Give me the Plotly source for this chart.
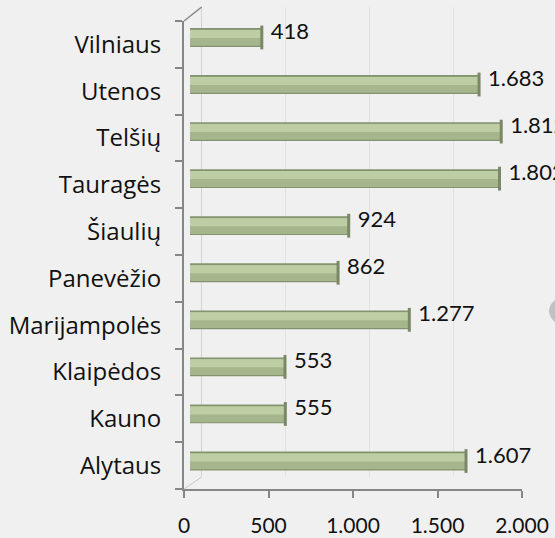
import plotly.graph_objects as go

categories = ["Alytaus", "Kauno", "Klaipėdos", "Marijampolės", "Panevėžio",
              "Šiaulių", "Tauragės", "Telšių", "Utenos", "Vilniaus"]
values = [1607, 555, 553, 1277, 862, 924, 1802, 1812, 1683, 418]
x_ticks = [0, 500, 1000, 1500, 2000]

W, H = 555, 538
def fx(px):
    return px / W
def fy(py):
    return 1 - py / H

AX = "#868686"
fig = go.Figure()

fig.add_trace(go.Scatter(x=[0], y=[0], xaxis="x", yaxis="y", mode="markers",
                         marker=dict(opacity=0), hoverinfo="skip", showlegend=False))
fig.add_trace(go.Scatter(x=[0] * len(categories), y=categories, xaxis="x2", yaxis="y2",
                         mode="markers", marker=dict(opacity=0), hoverinfo="skip",
                         showlegend=False))

layers = [
    dict(width=0.40, offset=-0.20, color="#84936f"),
    dict(width=0.34, offset=-0.175, color="#a5b68d"),
    dict(width=0.17, offset=-0.01, color="#bdcea5"),
]
for L in layers:
    fig.add_trace(go.Bar(
        x=values, y=categories, orientation="h", xaxis="x3", yaxis="y3",
        width=L["width"], offset=L["offset"],
        marker=dict(color=L["color"], line=dict(width=0)),
        hoverinfo="skip", showlegend=False))

fig.add_trace(go.Scatter(
    x=values, y=categories, xaxis="x3", yaxis="y3", mode="markers",
    marker=dict(symbol="line-ns", size=17, line=dict(color="#7a8866", width=3)),
    hoverinfo="skip", showlegend=False, cliponaxis=False))

fig.add_trace(go.Scatter(
    x=values, y=categories, xaxis="x4", yaxis="y4", mode="text",
    text=values, texttemplate="%{x:,}", textposition="middle right",
    textfont=dict(family="Lato", size=22, color="#111111"),
    cliponaxis=False, hoverinfo="skip", showlegend=False))

front_x = [fx(184), fx(522)]
front_y = [fy(489), fy(21)]

fig.update_layout(
    width=W, height=H, autosize=False,
    margin=dict(l=0, r=0, t=0, b=0, autoexpand=False),
    paper_bgcolor="#f0f0f0",
    plot_bgcolor="rgba(0,0,0,0)",
    separators=",.",
    barmode="overlay",
    showlegend=False,
    xaxis=dict(domain=[fx(201.7), fx(538)], range=[0, 2000], dtick=500,
               showgrid=True, gridcolor="#e2e2e2", gridwidth=1, automargin=False,
               showticklabels=False, zeroline=False, ticks="", fixedrange=True),
    yaxis=dict(domain=[fy(477), fy(7)], range=[0, 1], showgrid=False, automargin=False,
               showticklabels=False, zeroline=False, showline=True,
               linecolor="#d2d2d2", linewidth=1, ticks=""),
    xaxis2=dict(domain=front_x, range=[0, 2000], tickvals=x_ticks, automargin=False,
                tickformat=",", anchor="y2", showgrid=False, zeroline=False,
                showline=True, linecolor=AX, linewidth=2,
                ticks="outside", ticklen=7, tickcolor=AX, tickwidth=2,
                tickfont=dict(family="Lato", size=21, color="#111111"),
                ticklabelstandoff=10),
    yaxis2=dict(domain=front_y, type="category", categoryarray=categories,
                categoryorder="array", range=[-0.5, 9.5], anchor="x2", automargin=False,
                showgrid=False, zeroline=False, showline=True, linecolor=AX,
                linewidth=2, ticks="outside", ticklen=7, tickcolor=AX, tickwidth=2,
                tickson="boundaries",
                tickfont=dict(family="Open Sans", size=24, color="#111111"),
                ticklabelstandoff=16),
    xaxis3=dict(overlaying="x2", range=[-35, 1933], visible=False, anchor="y3",
                automargin=False),
    yaxis3=dict(overlaying="y2", type="category", categoryarray=categories,
                categoryorder="array", range=[-0.595, 9.35], visible=False, anchor="x3",
                automargin=False),
    xaxis4=dict(overlaying="x2", range=[-87, 1881], visible=False, anchor="y4",
                automargin=False),
    yaxis4=dict(overlaying="y2", type="category", categoryarray=categories,
                categoryorder="array", range=[-0.68, 9.265], visible=False, anchor="x4",
                automargin=False),
    shapes=[
        dict(type="line", xref="paper", yref="paper", x0=fx(184), y0=fy(21),
             x1=fx(201.7), y1=fy(7), line=dict(color=AX, width=1.5)),
        dict(type="line", xref="paper", yref="paper", x0=fx(184), y0=fy(489),
             x1=fx(201.7), y1=fy(477), line=dict(color="#c8c8c8", width=1)),
        dict(type="circle", xref="paper", yref="paper", x0=fx(549), y0=fy(294),
             x1=fx(600), y1=fy(328), fillcolor="#9a9a9a", opacity=0.55,
             line=dict(width=0)),
    ],
)

post = """
document.body.style.margin='0';
document.body.style.overflow='hidden';
document.body.style.background='#f0f0f0';
"""
fig.write_html("out.html", post_script=post,
               config={"displayModeBar": False, "responsive": False})
